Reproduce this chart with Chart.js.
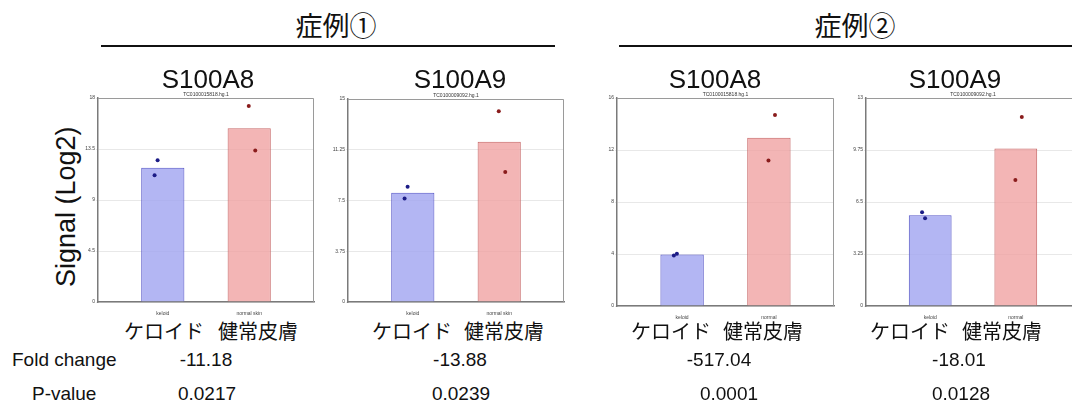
<!DOCTYPE html>
<html>
<head>
<meta charset="utf-8">
<script src="https://cdn.jsdelivr.net/npm/chart.js@4.4.0/dist/chart.umd.min.js"></script>
<style>
  body { margin: 0; background: #fff; }
  #page { position: relative; width: 1072px; height: 407px; overflow: hidden; background: #fff;
          font-family: "Liberation Sans", Arial, sans-serif; color: #111; }
  .t { position: absolute; white-space: nowrap; line-height: 1; }
  .jp { font-family: "Noto Sans CJK JP", sans-serif; }
  .rule { position: absolute; height: 2px; background: #111; }
  canvas { position: absolute; }
</style>
</head>
<body>
<div id="page"></div>
<script>
// values
const caseTitles = ['症例①', '症例②'];
const genes = ['S100A8', 'S100A9', 'S100A8', 'S100A9'];
const probeIds = ['TC0100015818.hg.1', 'TC0100009092.hg.1', 'TC0100015818.hg.1', 'TC0100009092.hg.1'];
const groupLabels = [['keloid', 'normal skin'], ['keloid', 'normal skin'], ['keloid', 'normal'], ['keloid', 'normal']];
const keloidMeans = [11.84, 8.08, 3.96, 5.67];
const normalMeans = [15.33, 11.85, 12.94, 9.84];
const keloidReps = [[11.18, 12.51], [7.64, 8.52], [3.89, 4.02], [5.86, 5.49]];
const normalReps = [[17.29, 13.37], [14.09, 9.61], [11.19, 14.69], [7.87, 11.81]];
const keloidJitter = [-0.095, -0.06];
const normalJitter = [-0.005, 0.07];
const yMax = [18, 15, 16, 13];
const foldChanges = ['-11.18', '-13.88', '-517.04', '-18.01'];
const pValues = ['0.0217', '0.0239', '0.0001', '0.0128'];

// layout: chart area left, top, right, bottom in page pixels
const areas = [[98, 98, 316, 302], [348, 99, 566, 302], [617, 98, 836, 306], [866, 98, 1082, 306]];
const jpLeft = [[124, 218], [372, 464], [631, 723], [870, 962]];
const fcCenter = [206, 460, 719, 959];
const pvCenter = [207, 461, 729, 961];
const geneCenter = [208, 460, 715, 955];

const page = document.getElementById('page');

function addText(txt, x, y, size, cls, align) {
  const d = document.createElement('div');
  d.className = 't ' + (cls || '');
  d.textContent = txt;
  d.style.fontSize = size + 'px';
  d.style.top = y + 'px';
  d.style.left = x + 'px';
  if (align === 'center') d.style.transform = 'translateX(-50%)';
  page.appendChild(d);
  return d;
}

// headers
addText(caseTitles[0], 336, 11, 27, 'jp', 'center');
addText(caseTitles[1], 855, 11, 27, 'jp', 'center');
[[101, 555], [619, 1072]].forEach(([a, b]) => {
  const r = document.createElement('div');
  r.className = 'rule';
  r.style.left = a + 'px';
  r.style.width = (b - a) + 'px';
  r.style.top = '45px';
  page.appendChild(r);
});

const yl = addText('Signal (Log2)', 0, 0, 27, '', '');
yl.style.transformOrigin = '0 0';
yl.style.transform = 'translate(53px, 287px) rotate(-90deg)';

addText('Fold change', 12, 350, 19, '', '');
addText('P-value', 32, 384, 19, '', '');

const boxPlugin = {
  id: 'box',
  afterDraw(chart, args, opts) {
    const { ctx, chartArea: a } = chart;
    ctx.save();
    ctx.strokeStyle = '#9a9a9a';
    ctx.lineWidth = 1;
    ctx.beginPath();
    ctx.moveTo(a.left, a.top + 0.5);
    ctx.lineTo(a.right - 0.5, a.top + 0.5);
    ctx.lineTo(a.right - 0.5, a.bottom);
    ctx.stroke();
    ctx.fillStyle = '#333';
    ctx.font = '5px "Liberation Sans", Arial';
    ctx.textAlign = 'center';
    ctx.textBaseline = 'bottom';
    ctx.fillText(opts.label, (a.left + a.right) / 2, a.top - 1);
    ctx.restore();
  }
};

function makePanel(i) {
  const [l, t, r, b] = areas[i];
  const yAxisW = 20, padTop = 10, padRight = 2, xAxisH = 14;
  const cv = document.createElement('canvas');
  cv.width = (r - l) + yAxisW + padRight;
  cv.height = (b - t) + padTop + xAxisH;
  cv.style.left = (l - yAxisW) + 'px';
  cv.style.top = (t - padTop) + 'px';
  page.appendChild(cv);

  new Chart(cv.getContext('2d'), {
    data: {
      datasets: [
        {
          type: 'bar',
          data: [{ x: 0, y: keloidMeans[i] }, { x: 1, y: normalMeans[i] }],
          backgroundColor: ['rgba(160,164,240,0.8)', 'rgba(240,160,160,0.78)'],
          borderColor: ['#5a5ac8', '#c86a6a'],
          borderWidth: 1,
          barPercentage: 0.5,
          categoryPercentage: 1,
          order: 2
        },
        {
          type: 'scatter',
          data: keloidReps[i].map((v, k) => ({ x: keloidJitter[k], y: v })),
          pointRadius: 2,
          pointBackgroundColor: '#1c1c86',
          pointBorderWidth: 0,
          order: 1
        },
        {
          type: 'scatter',
          data: normalReps[i].map((v, k) => ({ x: 1 + normalJitter[k], y: v })),
          pointRadius: 2,
          pointBackgroundColor: '#8a1c1c',
          pointBorderWidth: 0,
          order: 1
        }
      ]
    },
    options: {
      responsive: false,
      animation: false,
      layout: { padding: { top: padTop, right: padRight, left: 0, bottom: 0 } },
      plugins: {
        legend: { display: false },
        tooltip: { enabled: false },
        box: { label: probeIds[i] }
      },
      scales: {
        x: {
          type: 'linear',
          min: -0.75,
          max: 1.75,
          offset: false,
          grid: { display: false },
          border: { color: '#7a7a7a', width: 1.5 },
          afterBuildTicks: s => { s.ticks = [{ value: 0 }, { value: 1 }]; },
          afterFit: s => { s.height = xAxisH; },
          ticks: {
            font: { size: 5 },
            color: '#444',
            padding: 1,
            maxRotation: 0,
            autoSkip: false,
            callback: v => groupLabels[i][v]
          }
        },
        y: {
          min: 0,
          max: yMax[i],
          grid: { color: '#e8e8e8', tickLength: 2 },
          border: { color: '#7a7a7a', width: 1.5 },
          afterFit: s => { s.width = yAxisW; },
          ticks: {
            stepSize: yMax[i] / 4,
            font: { size: 5 },
            color: '#444',
            padding: 1,
            callback: v => String(Number(v.toFixed(2)))
          }
        }
      }
    },
    plugins: [boxPlugin]
  });

  addText(genes[i], geneCenter[i], 66, 26, '', 'center');
  addText('ケロイド', jpLeft[i][0], 321, 20, 'jp', '');
  addText('健常皮膚', jpLeft[i][1], 321, 20, 'jp', '');
  addText(foldChanges[i], fcCenter[i], 350, 19, '', 'center');
  addText(pValues[i], pvCenter[i], 384, 19, '', 'center');
}

for (let i = 0; i < 4; i++) makePanel(i);
</script>
</body>
</html>
